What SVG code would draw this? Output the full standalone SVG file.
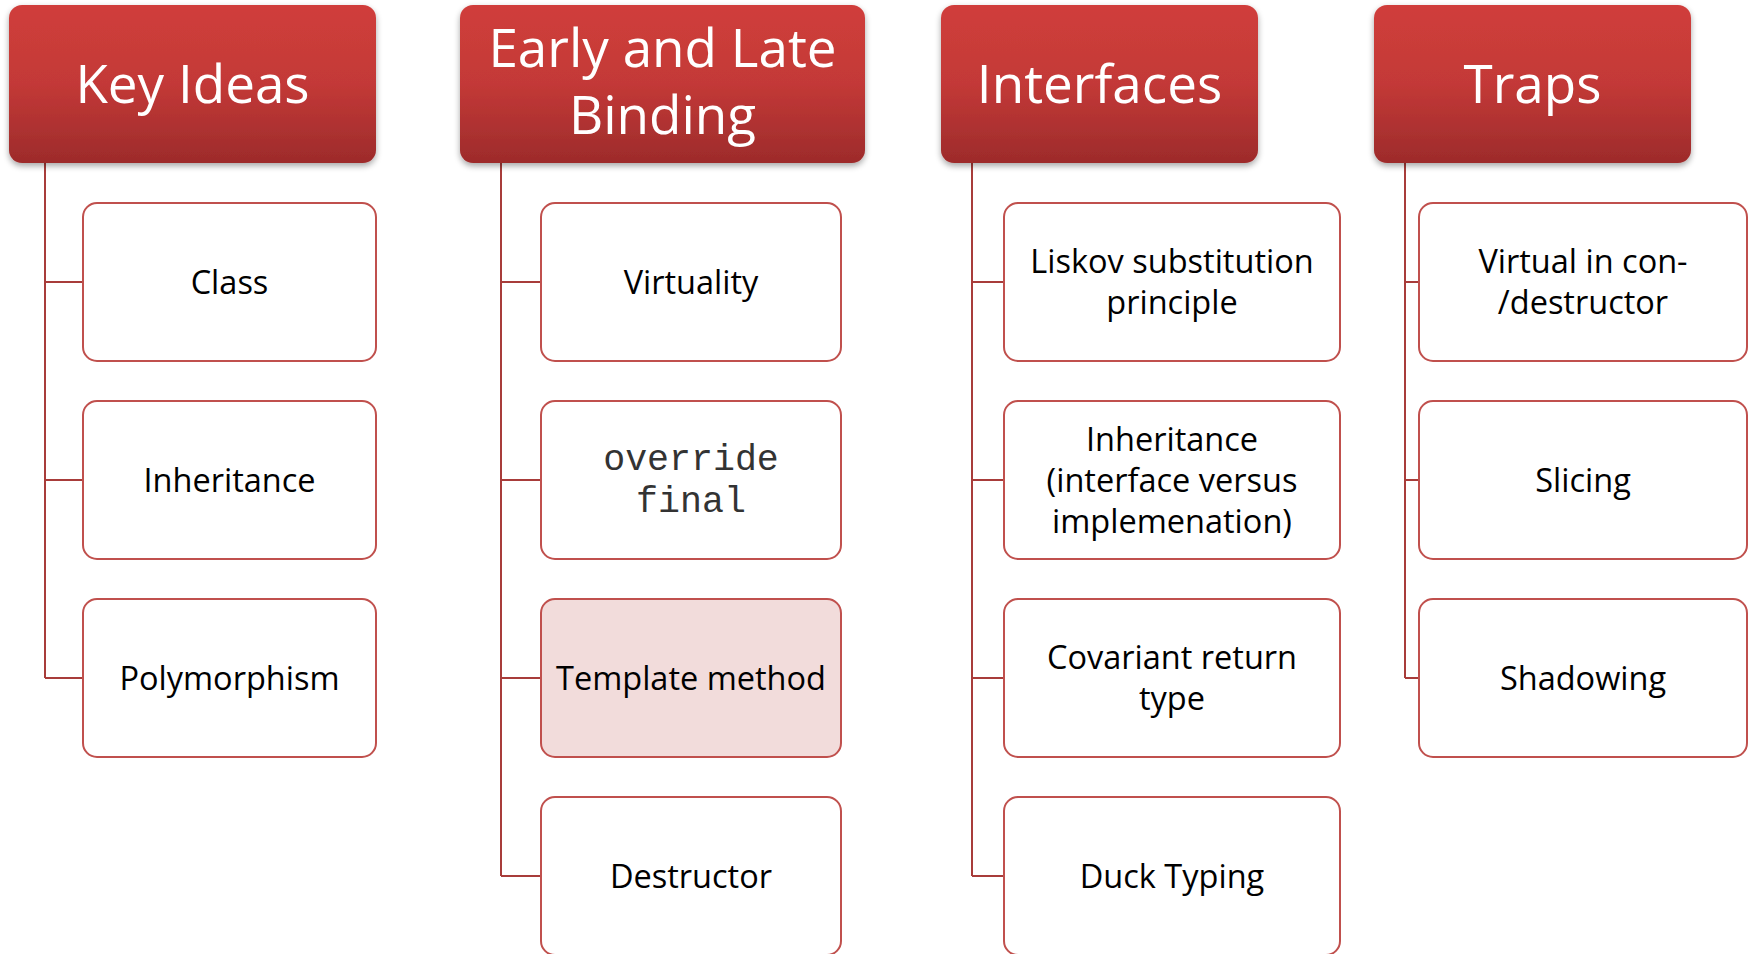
<svg xmlns="http://www.w3.org/2000/svg" width="1750" height="954" viewBox="0 0 1750 954">
<defs>
<linearGradient id="hg" x1="0" y1="0" x2="0" y2="1">
<stop offset="0" stop-color="#d03e3b"/>
<stop offset="0.5" stop-color="#c33937"/>
<stop offset="1" stop-color="#9d2b2b"/>
</linearGradient>
<filter id="sh" x="-10%" y="-10%" width="120%" height="130%">
<feGaussianBlur in="SourceAlpha" stdDeviation="3"/>
<feOffset dy="3" result="b"/>
<feComponentTransfer><feFuncA type="linear" slope="0.35"/></feComponentTransfer>
<feMerge><feMergeNode/><feMergeNode in="SourceGraphic"/></feMerge>
</filter>
</defs>
<style>
.hdr{fill:url(#hg);filter:url(#sh)}
.ht{font-family:"Open Sans","Noto Sans",sans-serif;font-size:53px;fill:#fff;text-anchor:middle}
.box{fill:#fff;stroke:#c0504d;stroke-width:2}
.hl{fill:#f2dcdb}
.bt{font-family:"Open Sans","Noto Sans",sans-serif;font-size:32.5px;fill:#000;text-anchor:middle}
.mono{font-family:"Liberation Mono","Courier New",monospace;font-size:36.6px;fill:#333;text-anchor:middle}
.con{fill:none;stroke:#a83c3a;stroke-width:2}
</style>
<g id="connectors">
<path class="con" d="M45 163V678M45 282H83M45 480H83M45 678H83"/>
<path class="con" d="M501 163V876M501 282H541M501 480H541M501 678H541M501 876H541"/>
<path class="con" d="M972 163V876M972 282H1004M972 480H1004M972 678H1004M972 876H1004"/>
<path class="con" d="M1405 163V678M1405 282H1419M1405 480H1419M1405 678H1419"/>
</g>
<g id="h-key-ideas"><rect class="hdr" x="9" y="5" width="367" height="158" rx="13"/><text class="ht" x="192.5" y="103">Key Ideas</text></g>
<g id="h-binding"><rect class="hdr" x="460" y="5" width="405" height="158" rx="13"/><text class="ht" x="662.5" y="67">Early and Late</text><text class="ht" x="662.5" y="134">Binding</text></g>
<g id="h-interfaces"><rect class="hdr" x="941" y="5" width="317" height="158" rx="13"/><text class="ht" x="1099.5" y="103">Interfaces</text></g>
<g id="h-traps"><rect class="hdr" x="1374" y="5" width="317" height="158" rx="13"/><text class="ht" x="1532.5" y="103">Traps</text></g>

<g id="n-class"><rect class="box" x="83" y="203" width="293" height="158" rx="14"/><text class="bt" x="229.5" y="293.5">Class</text></g>
<g id="n-inheritance"><rect class="box" x="83" y="401" width="293" height="158" rx="14"/><text class="bt" x="229.5" y="491.5">Inheritance</text></g>
<g id="n-polymorphism"><rect class="box" x="83" y="599" width="293" height="158" rx="14"/><text class="bt" x="229.5" y="689.5">Polymorphism</text></g>

<g id="n-virtuality"><rect class="box" x="541" y="203" width="300" height="158" rx="14"/><text class="bt" x="691" y="293.5">Virtuality</text></g>
<g id="n-override"><rect class="box" x="541" y="401" width="300" height="158" rx="14"/><text class="mono" x="691" y="470">override</text><text class="mono" x="691" y="512">final</text></g>
<g id="n-template"><rect class="box hl" x="541" y="599" width="300" height="158" rx="14"/><text class="bt" x="691" y="689.5">Template method</text></g>
<g id="n-destructor"><rect class="box" x="541" y="797" width="300" height="158" rx="14"/><text class="bt" x="691" y="887.5">Destructor</text></g>

<g id="n-liskov"><rect class="box" x="1004" y="203" width="336" height="158" rx="14"/><text class="bt" x="1172" y="273">Liskov substitution</text><text class="bt" x="1172" y="314">principle</text></g>
<g id="n-inh-iface"><rect class="box" x="1004" y="401" width="336" height="158" rx="14"/><text class="bt" x="1172" y="451">Inheritance</text><text class="bt" x="1172" y="492">(interface versus</text><text class="bt" x="1172" y="533">implemenation)</text></g>
<g id="n-covariant"><rect class="box" x="1004" y="599" width="336" height="158" rx="14"/><text class="bt" x="1172" y="669">Covariant return</text><text class="bt" x="1172" y="710">type</text></g>
<g id="n-duck"><rect class="box" x="1004" y="797" width="336" height="158" rx="14"/><text class="bt" x="1172" y="887.5">Duck Typing</text></g>

<g id="n-virtual-ctor"><rect class="box" x="1419" y="203" width="328" height="158" rx="14"/><text class="bt" x="1583" y="273">Virtual in con-</text><text class="bt" x="1583" y="314">/destructor</text></g>
<g id="n-slicing"><rect class="box" x="1419" y="401" width="328" height="158" rx="14"/><text class="bt" x="1583" y="491.5">Slicing</text></g>
<g id="n-shadowing"><rect class="box" x="1419" y="599" width="328" height="158" rx="14"/><text class="bt" x="1583" y="689.5">Shadowing</text></g>
</svg>
